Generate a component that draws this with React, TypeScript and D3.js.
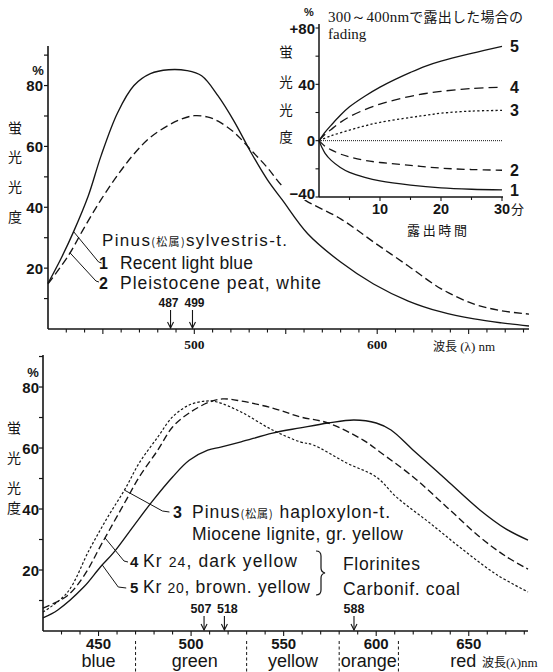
import React from 'react';
import * as d3 from 'd3';

const SANS = '"Liberation Sans", Arial, Helvetica, sans-serif';
const SERIF = '"Liberation Serif", "Times New Roman", serif';
const CJK = '"Noto Sans CJK JP", sans-serif';
const INK = '#151515';

// ---------- top chart (Pinus sylvestris-t.) ----------
const topWl1 = [420, 427, 434, 442, 449, 458, 467, 476, 486, 496, 504, 513, 522, 531, 540, 548, 562, 580, 598, 617, 635, 653, 668, 683];
const topV1 = [15, 23, 32, 43.7, 56.9, 71, 80, 83.9, 85.2, 84.9, 83.2, 76.6, 68, 58, 49, 42.5, 31.3, 22, 14.8, 9.2, 5.6, 3.3, 2, 1];
const topWl2 = [420, 431, 440, 449, 458, 467, 476, 486, 493, 500, 507, 513, 522, 531, 540, 549, 562, 580, 598, 617, 635, 653, 668, 683];
const topV2 = [14.8, 24, 33.5, 42.5, 50.5, 57.5, 63, 67, 69, 70.1, 69.7, 68.3, 64.5, 58.8, 53, 46.5, 41.8, 36.2, 28.6, 20.7, 13.2, 8.2, 6, 4.9];
const topPeaks = [487, 499];
const topPeakLabelShift = [-2, 2];
const topYTicks = [20, 40, 60, 80];
const topXTicks = [500, 600];

// ---------- inset (fading) ----------
const fadeT5 = [0, 1, 2, 3.5, 5, 7.5, 10, 12.5, 15, 17.5, 20, 25, 30];
const fadeV5 = [0, 6, 11, 18, 24, 31.5, 38, 43.5, 48.5, 53, 56.5, 62, 67];
const fadeT4 = [0, 1, 2, 3.5, 5, 7.5, 10, 12.5, 15, 17.5, 20, 25, 30];
const fadeV4 = [0, 4.5, 8, 13, 17, 22, 26, 29, 31.5, 33.5, 35, 37, 38];
const fadeT3 = [0, 2, 5, 7.5, 10, 15, 17.5, 20, 25, 30];
const fadeV3 = [0, 3.5, 7.5, 10.5, 13, 16.5, 18, 19.5, 21, 21.5];
const fadeT0 = [0, 30];
const fadeV0 = [0, 0];
const fadeT2 = [0, 1, 2, 3.5, 5, 7.5, 10, 15, 20, 25, 30];
const fadeV2 = [0, -4, -6.5, -9.5, -11.5, -14, -15.5, -17.5, -19.5, -20.5, -21];
const fadeT1 = [0, 0.5, 1, 2, 3.5, 5, 7.5, 10, 15, 20, 25, 30];
const fadeV1 = [0, -5, -9, -14, -19, -22.5, -26, -28.5, -31.5, -33.5, -34.5, -35];
const fadeYTicks = [80, 40, 0, -40];
const fadeYLabels = ['+80', '40', '0', '−40'];
const fadeXTicks = [10, 20, 30];

// ---------- bottom chart ----------
const botWl3 = [420, 433, 445, 455, 464, 472, 482, 490, 499, 508, 514, 527, 544, 559, 566, 584, 600, 611, 629, 647, 665, 682];
const botV3 = [6.2, 12.5, 26.6, 37.4, 46.2, 55.1, 63.6, 70.2, 74.1, 75.4, 75.1, 71.8, 65.9, 62, 61, 55.1, 50.5, 43.9, 35.4, 26.6, 18.5, 12.8];
const botWl4 = [420, 433, 442, 452, 465, 472, 482, 490, 499, 510, 517, 527, 544, 559, 574, 593, 602, 620, 638, 656, 670, 682];
const botV4 = [7.5, 11.5, 18, 28.9, 43, 50.5, 59.3, 66.9, 71.5, 75.1, 76.1, 75.4, 73.1, 70.2, 68.2, 62.6, 58.7, 50.5, 40.7, 30.8, 24.5, 20.3];
const botWl5 = [420, 428, 442, 451, 458, 469, 479, 490, 499, 509, 516, 527, 544, 559, 574, 588, 600, 608, 620, 638, 656, 670, 682];
const botV5 = [4.3, 6.9, 14.4, 21, 25.6, 34.5, 42.5, 50.5, 56, 59.3, 60.3, 62, 64.9, 66.6, 68.2, 69.2, 68.2, 65.9, 59.3, 49.5, 39.7, 33.5, 29.8];
const botPeaks = [507, 518, 588];
const botPeakLabelShift = [-3, 3, 0];
const botYTicks = [20, 40, 60, 80];
const botXTicks = [450, 500, 550, 600, 650];
const bandNames = ['blue', 'green', 'yellow', 'orange'];
const bandCenters = [450, 502, 555, 596];
const bandEdges = [470, 530, 580, 612];
const redStart = 640;

// scales
const xT = d3.scaleLinear().domain([420, 683]).range([48, 529]);
const yT = d3.scaleLinear().domain([0, 93]).range([329, 46]);
const xI = d3.scaleLinear().domain([0, 30]).range([319, 502]);
const yI = d3.scaleLinear().domain([-40, 80]).range([197, 28]);
const xB = d3.scaleLinear().domain([420, 682]).range([43, 528]);
const yB = d3.scaleLinear().domain([0, 90.5]).range([631, 355]);

function pathOf(xs: number[], vs: number[], sx: any, sy: any) {
  const pts = xs.map((x, i) => [sx(x), sy(vs[i])] as [number, number]);
  return d3.line().curve(d3.curveCatmullRom.alpha(0.5))(pts) || '';
}
function at(xs: number[], vs: number[], x: number) {
  return d3.scaleLinear().domain(xs).range(vs)(x);
}

const Curve = ({ d, dash, w = 1.35 }: { d: string; dash?: string; w?: number }) => (
  <path d={d} fill="none" stroke={INK} strokeWidth={w} strokeDasharray={dash} strokeLinejoin="round" />
);

const Arrow = ({ x, y1, y2 }: { x: number; y1: number; y2: number }) => (
  <g stroke={INK} strokeWidth={1.1} fill="none">
    <line x1={x} y1={y1} x2={x} y2={y2} />
    <path d={`M${x - 3},${y2 - 6} L${x},${y2} L${x + 3},${y2 - 6}`} />
  </g>
);

function range(a: number, b: number, s: number) {
  const r: number[] = [];
  for (let v = a; v <= b + 1e-9; v += s) r.push(v);
  return r;
}

export default function App() {
  // leader anchors on curves
  const l1x = xT(434), l1y = yT(at(topWl1, topV1, 434));
  const l2x = xT(432), l2y = yT(at(topWl2, topV2, 432));
  const l3x = xB(464), l3y = yB(at(botWl3, botV3, 464));
  const l4x = xB(453.5), l4y = yB(at(botWl4, botV4, 453.5));
  const l5x = xB(452), l5y = yB(at(botWl5, botV5, 452));

  const txt = { fontFamily: SANS, fill: INK } as const;
  const cjk = { fontFamily: CJK, fill: INK, fontWeight: 400 } as const;

  return (
    <svg width={553} height={672} viewBox="0 0 553 672" style={{ position: 'absolute', left: 0, top: 0, background: '#fff' }}>
      <rect x={0} y={0} width={553} height={672} fill="#fff" />

      {/* ================= TOP CHART ================= */}
      <g>
        <line x1={xT(420)} y1={yT(93)} x2={xT(420)} y2={yT(0)} stroke={INK} strokeWidth={1.6} />
        <line x1={xT(420)} y1={yT(0)} x2={xT(683)} y2={yT(0)} stroke={INK} strokeWidth={1.6} />
        {range(10, 90, 10).map((v) => (
          <line key={'tyt' + v} x1={xT(420) - 4} x2={xT(420)} y1={yT(v)} y2={yT(v)} stroke={INK} strokeWidth={1.2} />
        ))}
        {range(430, 680, 10).map((w) => (
          <line key={'txt' + w} x1={xT(w)} x2={xT(w)} y1={yT(0)} y2={yT(0) + (w % 50 === 0 ? 5 : 3.5)} stroke={INK} strokeWidth={1.1} />
        ))}
        {topYTicks.map((v) => (
          <text key={'tyl' + v} x={xT(420) - 5} y={yT(v) + 5.5} textAnchor="end" fontSize={15} fontWeight="bold" {...txt}>{v}</text>
        ))}
        <text x={38} y={75} textAnchor="middle" fontSize={13} fontWeight="bold" {...txt}>%</text>
        {topXTicks.map((w) => (
          <text key={'txl' + w} x={xT(w)} y={yT(0) + 20} textAnchor="middle" fontSize={13.5} fontWeight="bold" fontFamily={SERIF} fill={INK}>{w}</text>
        ))}
        <text x={433} y={351} fontSize={13} fontFamily={SERIF} fill={INK}>
          <tspan fontFamily={CJK} fontSize={12}>波長</tspan> (λ) nm
        </text>
        {['蛍', '光', '光', '度'].map((c, i) => (
          <text key={'tc' + i} x={15} y={[128, 157, 187, 217][i] + 5} textAnchor="middle" fontSize={14} {...cjk}>{c}</text>
        ))}

        <Curve d={pathOf(topWl1, topV1, xT, yT)} />
        <Curve d={pathOf(topWl2, topV2, xT, yT)} dash="8,4" />

        {topPeaks.map((p, i) => (
          <g key={'tp' + p}>
            <text x={xT(p) + topPeakLabelShift[i]} y={307} textAnchor="middle" fontSize={12} fontWeight="bold" {...txt}>{p}</text>
            <Arrow x={xT(p)} y1={310} y2={yT(0) - 1} />
          </g>
        ))}

        <polyline points={`${l1x},${l1y} ${l1x + 25},${262} ${l1x + 28},${263}`} fill="none" stroke={INK} strokeWidth={1} />
        <polyline points={`${l2x},${l2y} ${l2x + 26},${281} ${l2x + 29},${282}`} fill="none" stroke={INK} strokeWidth={1} />
        <text x={102} y={246} fontSize={17} textLength={185} lengthAdjust="spacing" {...txt}>
          Pinus<tspan fontFamily={CJK} fontSize={11}>(松属)</tspan>sylvestris-t.
        </text>
        <text x={99} y={269} fontSize={16} fontWeight="bold" {...txt}>1</text>
        <text x={120} y={269} fontSize={17.5} textLength={133} lengthAdjust="spacing" {...txt}>Recent light blue</text>
        <text x={99} y={289} fontSize={16} fontWeight="bold" {...txt}>2</text>
        <text x={120} y={289} fontSize={17.5} textLength={201} lengthAdjust="spacing" {...txt}>Pleistocene  peat,  white</text>
      </g>

      {/* ================= INSET ================= */}
      <g>
        <rect x={283} y={184} width={33} height={16} fill="#fff" />
        <line x1={xI(0)} y1={24} x2={xI(0)} y2={yI(-40)} stroke={INK} strokeWidth={1.5} />
        <line x1={xI(0)} y1={yI(-40)} x2={xI(30) + 1} y2={yI(-40)} stroke={INK} strokeWidth={1.5} />
        {range(-40, 80, 20).map((v) => (
          <line key={'iyt' + v} x1={xI(0) - 3.5} x2={xI(0)} y1={yI(v)} y2={yI(v)} stroke={INK} strokeWidth={1.1} />
        ))}
        {range(5, 30, 5).map((t) => (
          <line key={'ixt' + t} x1={xI(t)} x2={xI(t)} y1={yI(-40)} y2={yI(-40) + (t % 10 === 0 ? 4 : 3)} stroke={INK} strokeWidth={1.1} />
        ))}
        {fadeYTicks.map((v, i) => (
          <text key={'iyl' + v} x={xI(0) - 4} y={yI(v) + 5.5 - (v === -40 ? 4 : 0)} textAnchor="end" fontSize={15} fontWeight="bold" {...txt}>
            {fadeYLabels[i]}
          </text>
        ))}
        <text x={309} y={16} textAnchor="middle" fontSize={11} fontWeight="bold" {...txt}>%</text>
        {fadeXTicks.map((t) => (
          <text key={'ixl' + t} x={xI(t)} y={214} textAnchor="middle" fontSize={14.5} fontWeight="bold" {...txt}>{t}</text>
        ))}
        <text x={511} y={214} fontSize={13} {...cjk}>分</text>
        <text x={437} y={235} textAnchor="middle" fontSize={13} textLength={60} lengthAdjust="spacing" {...cjk}>露出時間</text>
        <text x={328} y={22} fontSize={15} fontFamily={SERIF} fill={INK} textLength={195} lengthAdjust="spacing">
          300～400nm<tspan fontFamily={CJK} fontSize={14}>で露出した場合の</tspan>
        </text>
        <text x={328} y={39} fontSize={15} fontFamily={SERIF} fill={INK}>fading</text>
        {['蛍', '光', '光', '度'].map((c, i) => (
          <text key={'ic' + i} x={286} y={[52, 82, 110, 137][i] + 5} textAnchor="middle" fontSize={13.5} {...cjk}>{c}</text>
        ))}

        <Curve d={pathOf(fadeT5, fadeV5, xI, yI)} w={1.3} />
        <Curve d={pathOf(fadeT4, fadeV4, xI, yI)} dash="9,5" w={1.3} />
        <Curve d={pathOf(fadeT3, fadeV3, xI, yI)} dash="2.2,2.3" w={1.3} />
        <Curve d={pathOf(fadeT0, fadeV0, xI, yI)} dash="1,1" w={1} />
        <Curve d={pathOf(fadeT2, fadeV2, xI, yI)} dash="8,5" w={1.3} />
        <Curve d={pathOf(fadeT1, fadeV1, xI, yI)} w={1.3} />
        {[
          ['5', fadeV5], ['4', fadeV4], ['3', fadeV3], ['2', fadeV2], ['1', fadeV1],
        ].map(([n, vs]: any) => (
          <text key={'in' + n} x={xI(30) + 8} y={yI(vs[vs.length - 1]) + 6} fontSize={16} fontWeight="bold" {...txt}>{n}</text>
        ))}
      </g>

      {/* ================= BOTTOM CHART ================= */}
      <g>
        <line x1={xB(420)} y1={yB(90.5)} x2={xB(420)} y2={yB(0)} stroke={INK} strokeWidth={1.6} />
        <line x1={xB(420)} y1={yB(0)} x2={xB(682)} y2={yB(0)} stroke={INK} strokeWidth={1.6} />
        {range(10, 90, 10).map((v) => (
          <line key={'byt' + v} x1={xB(420) - 4} x2={xB(420)} y1={yB(v)} y2={yB(v)} stroke={INK} strokeWidth={1.2} />
        ))}
        {range(430, 680, 10).map((w) => (
          <line key={'bxt' + w} x1={xB(w)} x2={xB(w)} y1={yB(0)} y2={yB(0) + (w % 50 === 0 ? 5 : 3.5)} stroke={INK} strokeWidth={1.1} />
        ))}
        {botYTicks.map((v) => (
          <text key={'byl' + v} x={xB(420) - 4} y={yB(v) + 5.5} textAnchor="end" fontSize={15} fontWeight="bold" {...txt}>{v}</text>
        ))}
        <text x={33} y={377} textAnchor="middle" fontSize={13} fontWeight="bold" {...txt}>%</text>
        {['蛍', '光', '光', '度'].map((c, i) => (
          <text key={'bc' + i} x={14} y={[428, 458, 488, 508][i] + 5} textAnchor="middle" fontSize={14} {...cjk}>{c}</text>
        ))}
        {botXTicks.map((w) => (
          <text key={'bxl' + w} x={xB(w)} y={649} textAnchor="middle" fontSize={15} fontWeight="bold" {...txt}>{w}</text>
        ))}
        {bandNames.map((n, i) => (
          <text key={'bn' + n} x={xB(bandCenters[i])} y={667} textAnchor="middle" fontSize={18} {...txt}>{n}</text>
        ))}
        {bandEdges.map((e) => (
          <line key={'be' + e} x1={xB(e)} x2={xB(e)} y1={641} y2={672} stroke={INK} strokeWidth={1} strokeDasharray="3,2.5" />
        ))}
        <text x={xB(redStart)} y={667} fontSize={18} {...txt}>red</text>
        <text x={482} y={667} fontSize={13} fontFamily={SERIF} fill={INK}>
          <tspan fontFamily={CJK} fontSize={12}>波長</tspan>(λ)nm
        </text>

        <Curve d={pathOf(botWl5, botV5, xB, yB)} />
        <Curve d={pathOf(botWl4, botV4, xB, yB)} dash="7,3.5" />
        <Curve d={pathOf(botWl3, botV3, xB, yB)} dash="2.5,2" w={1.2} />

        {botPeaks.map((p, i) => (
          <g key={'bp' + p}>
            <text x={xB(p) + botPeakLabelShift[i]} y={613} textAnchor="middle" fontSize={12.5} fontWeight="bold" {...txt}>{p}</text>
            <Arrow x={xB(p)} y1={616} y2={yB(0) - 1} />
          </g>
        ))}

        <polyline points={`${l3x},${l3y} ${l3x + 38},${511} ${l3x + 45},${512}`} fill="none" stroke={INK} strokeWidth={1} />
        <polyline points={`${l4x},${l4y} ${l4x + 19},${561} ${l4x + 23},${562}`} fill="none" stroke={INK} strokeWidth={1} />
        <polyline points={`${l5x},${l5y} ${l5x + 16},${587} ${l5x + 24},${588}`} fill="none" stroke={INK} strokeWidth={1} />

        <text x={173} y={518} fontSize={16} fontWeight="bold" {...txt}>3</text>
        <text x={192} y={518} fontSize={17.5} textLength={198} lengthAdjust="spacing" {...txt}>
          Pinus<tspan fontFamily={CJK} fontSize={11}>(松属)</tspan> haploxylon-t.
        </text>
        <text x={192} y={540} fontSize={17.5} textLength={211} lengthAdjust="spacing" {...txt}>Miocene  lignite,  gr.  yellow</text>
        <text x={130} y={567} fontSize={15} fontWeight="bold" {...txt}>4</text>
        <text x={143} y={567} fontSize={17.5} textLength={154} lengthAdjust="spacing" {...txt}>
          Kr <tspan fontSize={14}>24</tspan>, dark  yellow
        </text>
        <text x={130} y={593} fontSize={15} fontWeight="bold" {...txt}>5</text>
        <text x={143} y={593} fontSize={17.5} textLength={167} lengthAdjust="spacing" {...txt}>
          Kr <tspan fontSize={14}>20</tspan>, brown. yellow
        </text>
        <path d="M316,551 Q321,551 321,556 L321,568 Q321,572 325,573 Q321,574 321,578 L321,590 Q321,595 316,595" fill="none" stroke={INK} strokeWidth={1.2} />
        <text x={343} y={570} fontSize={17.5} textLength={77} lengthAdjust="spacing" {...txt}>Florinites</text>
        <text x={343} y={595} fontSize={17.5} textLength={117} lengthAdjust="spacing" {...txt}>Carbonif.  coal</text>
      </g>
    </svg>
  );
}
